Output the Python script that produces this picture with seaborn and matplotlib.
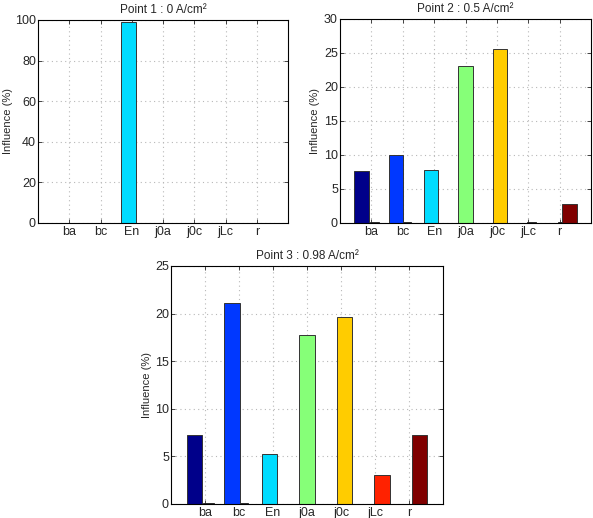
import matplotlib
matplotlib.use("Agg")
import matplotlib.pyplot as plt
import seaborn as sns
import numpy as np

## parameters and their influence at the three operating points
params = ["ba", "bc", "En", "j0a", "j0c", "jLc", "r"]
colors = ["#00008a", "#0038ff", "#00dcff", "#86ff78", "#ffcc00", "#ff2200", "#800000"]

titles = ["Point 1 : 0 A/cm²", "Point 2 : 0.5 A/cm²", "Point 3 : 0.98 A/cm²"]
ymax = [100, 30, 25]

infl_p1 = [0, 0, 99.2, 0, 0, 0, 0]
infl_p2 = [7.6, 9.95, 7.75, 23.1, 25.6, 0, 2.8]
infl_p3 = [7.25, 21.1, 5.25, 17.7, 19.6, 3.0, 7.25]

## near-zero residual series
resid_p1 = [0, 0, 0, 0, 0, 0, 0]
resid_p2 = [0.12, 0.12, 0, 0, 0.1, 0.1, 0.1]
resid_p3 = [0.1, 0.15, 0, 0, 0.06, 0, 0.05]

sns.set_style("white")
plt.rcParams["font.family"] = ["Liberation Sans", "DejaVu Sans"]
plt.rcParams["font.size"] = 9

fig = plt.figure(figsize=(5.93, 5.18), dpi=100)
W, H = 593, 518
boxes = [(38, 20, 288, 223), (340, 19, 591, 223), (171, 266, 443, 504)]
label_gap = [25, 20, 19]
infl = [infl_p1, infl_p2, infl_p3]
resid = [resid_p1, resid_p2, resid_p3]

x = np.arange(1, len(params) + 1)
shift = (x - 4) * 0.105

for k in range(3):
    l, t, r, b = boxes[k]
    ax = fig.add_axes([l / W, 1 - b / H, (r - l) / W, (b - t) / H])
    ax.bar(x + 0.1, resid[k], width=0.3, color="#202020", edgecolor="#202020", lw=0.6)
    ax.bar(x + shift, infl[k], width=0.45, color=colors, edgecolor="#333333", lw=0.7)
    ax.set_xlim(0, 8)
    ax.set_ylim(0, ymax[k])
    ax.set_xticks(x)
    ax.set_xticklabels(params)
    ax.set_title(titles[k], fontsize=8.5, pad=5)
    ax.set_ylabel("Influence (%)", fontsize=8)
    ax.yaxis.set_label_coords(-label_gap[k] / (r - l), 0.5)
    ax.grid(True, ls=(0, (1, 3)), color="#b8b8b8", lw=0.8)
    ax.set_axisbelow(True)
    for s in ax.spines.values():
        s.set_color("black")
        s.set_linewidth(0.8)
    ax.tick_params(direction="in", length=3, width=0.6, top=True, right=True,
                   labelsize=9, bottom=True, left=True)
    ax.tick_params(axis="y", pad=1.5)
    ax.tick_params(axis="x", pad=2)

plt.savefig("out.png", dpi=100)
